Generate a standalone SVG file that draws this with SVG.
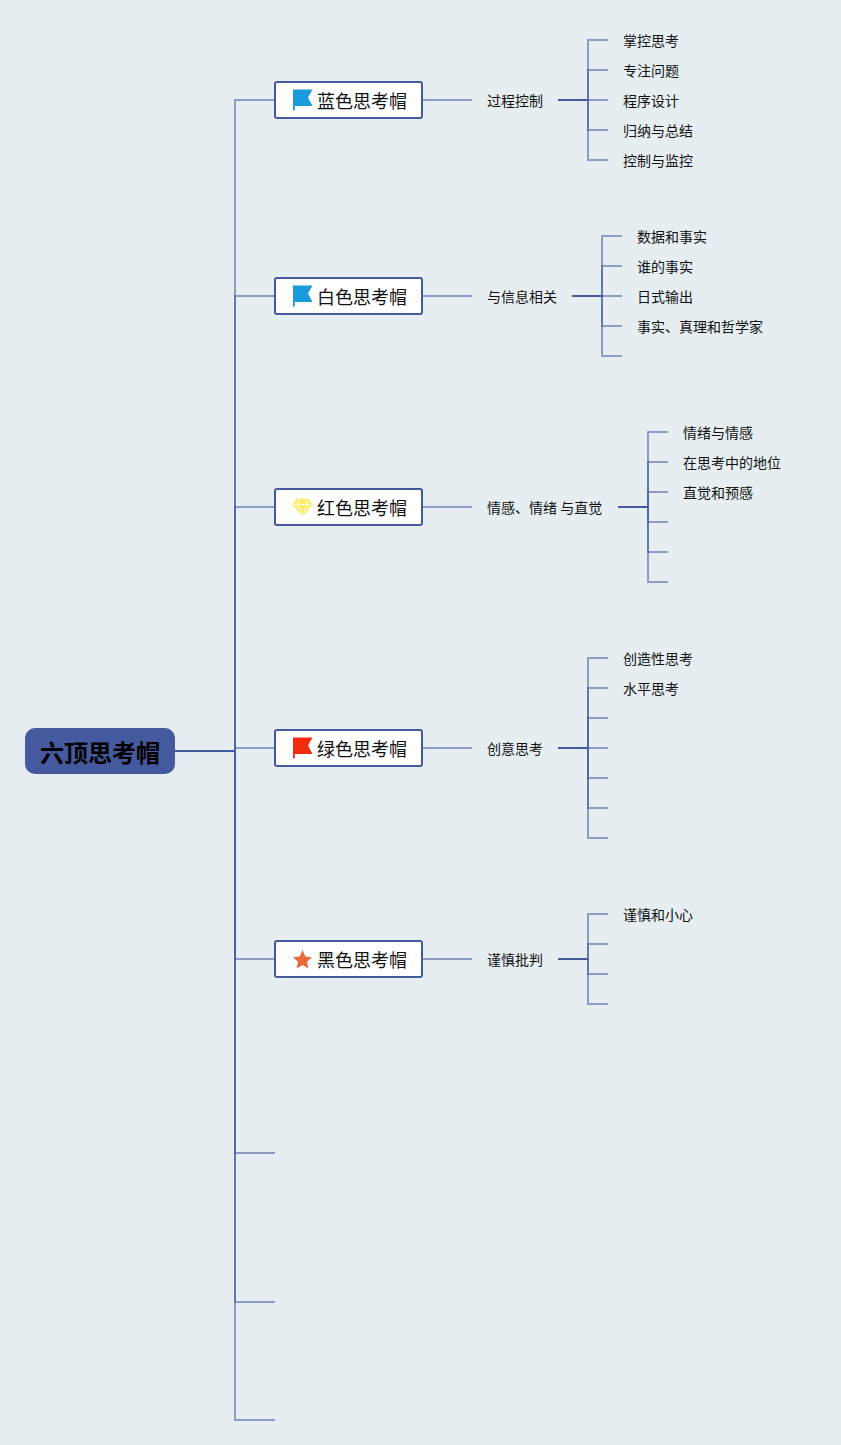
<svg xmlns="http://www.w3.org/2000/svg" width="841" height="1445" viewBox="0 0 841 1445">
<style>
text{font-family:"Noto Sans CJK SC","Noto Sans",sans-serif;fill:#111}
.l{font-size:14px}
.m{font-size:18px}
.seg path{fill:none;stroke:#45599f;stroke-width:2;stroke-opacity:.55}
.dark{fill:none;stroke:#45599f;stroke-width:2}
.box{fill:#fff;stroke:#45599f;stroke-width:2}
</style>
<defs>
<path id="flag" d="M0 0H19.500L15 8L19.500 16.500H1.800V21H0Z"/>
</defs>
<rect width="841" height="1445" fill="#e6eef2"/>
<g id="connectors">
<path class="dark" d="M175 751H235"/>
<g class="seg">
<path d="M235 751V100H275"/><path d="M235 751V296H275"/><path d="M235 751V507H275"/><path d="M235 751V748H275"/><path d="M235 751V959H275"/><path d="M235 751V1153H275"/><path d="M235 751V1302H275"/><path d="M235 751V1420H275"/>
<path d="M423 100H472"/><path d="M423 296H472"/><path d="M423 507H472"/><path d="M423 748H472"/><path d="M423 959H472"/>
<path d="M588 100V40H608"/><path d="M588 100V70H608"/><path d="M588 100H608"/><path d="M588 100V130H608"/><path d="M588 100V160H608"/>
<path d="M602 296V236H622"/><path d="M602 296V266H622"/><path d="M602 296H622"/><path d="M602 296V326H622"/><path d="M602 296V356H622"/>
<path d="M648 507V432H668"/><path d="M648 507V462H668"/><path d="M648 507V492H668"/><path d="M648 507V522H668"/><path d="M648 507V552H668"/><path d="M648 507V582H668"/>
<path d="M588 748V658H608"/><path d="M588 748V688H608"/><path d="M588 748V718H608"/><path d="M588 748H608"/><path d="M588 748V778H608"/><path d="M588 748V808H608"/><path d="M588 748V838H608"/>
<path d="M588 959V914H608"/><path d="M588 959V944H608"/><path d="M588 959V974H608"/><path d="M588 959V1004H608"/>
</g>
<path class="dark" d="M558 100H588M572 296H602M618 507H648M558 748H588M558 959H588"/>
</g>
<g id="root"><rect x="25" y="728" width="150" height="46" rx="10" fill="#45599f"/><text x="100" y="762" text-anchor="middle" font-size="24" font-weight="700" style="fill:#000">六顶思考帽</text></g>
<g id="n1"><rect class="box" x="275" y="82" width="147" height="36" rx="2"/><use href="#flag" x="293" y="89.500" fill="#1a9bdc"/><text class="m" x="317" y="108">蓝色思考帽</text></g>
<g id="n2"><rect class="box" x="275" y="278" width="147" height="36" rx="2"/><use href="#flag" x="293" y="285.500" fill="#1a9bdc"/><text class="m" x="317" y="304">白色思考帽</text></g>
<g id="n3"><rect class="box" x="275" y="489" width="147" height="36" rx="2"/><path d="M297 499H308L312 504.500L302.500 516L293 504.500Z" fill="#fbee6c" stroke="#f8ea60" stroke-width="1"/><path d="M294 504.500H311M299.500 499.500L297.500 504.500L302.500 515L307.500 504.500L305.500 499.500" fill="none" stroke="#fff" stroke-width=".8"/><text class="m" x="317" y="515">红色思考帽</text></g>
<g id="n4"><rect class="box" x="275" y="730" width="147" height="36" rx="2"/><use href="#flag" x="293" y="737.500" fill="#f42b0c"/><text class="m" x="317" y="756">绿色思考帽</text></g>
<g id="n5"><rect class="box" x="275" y="941" width="147" height="36" rx="2"/><path d="M302.500 950L305.300 956.500L312 957.200L307 961.800L308.400 968.500L302.500 965.100L296.600 968.500L298 961.800L293 957.200L299.700 956.500Z" fill="#e96a38"/><text class="m" x="317" y="967">黑色思考帽</text></g>
<g id="t1"><text class="l" x="487" y="106">过程控制</text></g>
<g id="t2"><text class="l" x="487" y="302">与信息相关</text></g>
<g id="t3"><text class="l" x="487" y="513">情感、情绪 与直觉</text></g>
<g id="t4"><text class="l" x="487" y="754">创意思考</text></g>
<g id="t5"><text class="l" x="487" y="965">谨慎批判</text></g>
<g id="leaves1"><text class="l" x="623" y="46">掌控思考</text><text class="l" x="623" y="76">专注问题</text><text class="l" x="623" y="106">程序设计</text><text class="l" x="623" y="136">归纳与总结</text><text class="l" x="623" y="166">控制与监控</text></g>
<g id="leaves2"><text class="l" x="637" y="242">数据和事实</text><text class="l" x="637" y="272">谁的事实</text><text class="l" x="637" y="302">日式输出</text><text class="l" x="637" y="332">事实、真理和哲学家</text></g>
<g id="leaves3"><text class="l" x="683" y="438">情绪与情感</text><text class="l" x="683" y="468">在思考中的地位</text><text class="l" x="683" y="498">直觉和预感</text></g>
<g id="leaves4"><text class="l" x="623" y="664">创造性思考</text><text class="l" x="623" y="694">水平思考</text></g>
<g id="leaves5"><text class="l" x="623" y="920">谨慎和小心</text></g>
</svg>
